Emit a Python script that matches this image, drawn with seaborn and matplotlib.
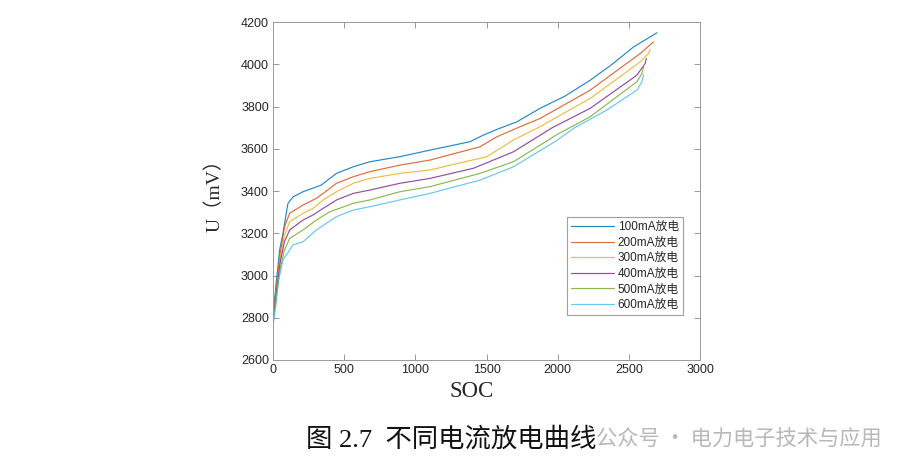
import numpy as np
import pandas as pd
import matplotlib
matplotlib.use("Agg")
import matplotlib.pyplot as plt
import seaborn as sns

# curve data (SOC, U in mV)
labels = ["100mA放电", "200mA放电", "300mA放电", "400mA放电", "500mA放电", "600mA放电"]
colors = ["#0072BD", "#D95319", "#EDB120", "#7E2F8E", "#77AC30", "#4DBEEE"]

soc_100 = [0, 20, 47, 70, 105, 141, 211, 305, 340, 399, 446, 563, 680, 891, 1102, 1383, 1477, 1571, 1712, 1875, 2050, 2227, 2380, 2532, 2696]
u_100 = [2790, 2950, 3123, 3200, 3342, 3373, 3397, 3420, 3429, 3460, 3484, 3515, 3539, 3563, 3594, 3634, 3665, 3692, 3728, 3792, 3850, 3925, 4000, 4083, 4150]

soc_200 = [0, 20, 50, 80, 117, 211, 305, 352, 446, 563, 680, 891, 1102, 1454, 1571, 1735, 1875, 2227, 2579, 2672]
u_200 = [2790, 2930, 3100, 3230, 3295, 3334, 3366, 3389, 3437, 3468, 3492, 3523, 3547, 3610, 3657, 3705, 3744, 3878, 4052, 4107]

soc_300 = [0, 20, 50, 80, 117, 211, 281, 352, 446, 563, 680, 891, 1102, 1501, 1688, 1875, 2227, 2579, 2637, 2649]
u_300 = [2785, 2910, 3080, 3190, 3255, 3295, 3318, 3358, 3397, 3437, 3460, 3484, 3500, 3563, 3642, 3705, 3839, 4012, 4052, 4071]

soc_400 = [0, 20, 50, 80, 117, 211, 281, 352, 446, 563, 680, 891, 1102, 1407, 1688, 1960, 2227, 2555, 2614, 2621]
u_400 = [2785, 2900, 3060, 3160, 3216, 3263, 3287, 3318, 3358, 3389, 3405, 3437, 3460, 3508, 3586, 3700, 3792, 3949, 4005, 4028]

soc_500 = [0, 20, 50, 80, 117, 211, 305, 399, 563, 680, 891, 1102, 1454, 1688, 2000, 2227, 2555, 2591, 2602]
u_500 = [2780, 2880, 3030, 3120, 3176, 3216, 3263, 3302, 3342, 3358, 3397, 3421, 3484, 3539, 3670, 3752, 3918, 3957, 3988]

soc_600 = [0, 20, 40, 70, 141, 211, 305, 446, 563, 680, 891, 1102, 1454, 1688, 1993, 2110, 2344, 2555, 2591, 2602]
u_600 = [2760, 2860, 2980, 3074, 3145, 3160, 3216, 3279, 3310, 3326, 3358, 3389, 3452, 3515, 3640, 3697, 3784, 3878, 3918, 3952]

soc_all = [soc_100, soc_200, soc_300, soc_400, soc_500, soc_600]
u_all = [u_100, u_200, u_300, u_400, u_500, u_600]

frames = []
for lab, s, u in zip(labels, soc_all, u_all):
    frames.append(pd.DataFrame({"SOC": s, "U": u, "curve": lab}))
df = pd.concat(frames, ignore_index=True)

sns.set_theme(style="white")
plt.rcParams["font.family"] = ["Liberation Sans", "Noto Sans CJK SC"]

fig = plt.figure(figsize=(9.07, 4.73), dpi=100)
ax = fig.add_axes([0.301, 0.239, 0.471, 0.714])

sns.lineplot(data=df, x="SOC", y="U", hue="curve", hue_order=labels,
             palette=colors, sort=False, estimator=None, linewidth=0.85,
             alpha=0.85, ax=ax)

ax.set_xlim(0, 3000)
ax.set_ylim(2600, 4200)
ax.set_xticks(np.arange(0, 3001, 500))
ax.set_yticks(np.arange(2600, 4201, 200))
ax.tick_params(direction="in", length=4, width=0.6, colors="#888888",
               labelcolor="#262626", labelsize=9, top=True, right=True,
               bottom=True, left=True, pad=3)
for sp in ax.spines.values():
    sp.set_color("#999999")
    sp.set_linewidth(0.7)

ax.set_xlabel("SOC", family=["Liberation Serif"], fontsize=16.5)
ax.xaxis.set_label_coords(0.464, -0.092, transform=ax.transAxes)
ax.xaxis.label.set_va("center")
ax.set_ylabel("U（mV）", family=["Liberation Serif", "Noto Sans CJK SC"], fontsize=14, labelpad=12)

leg = ax.legend(loc="lower right", bbox_to_anchor=(0.960, 0.133), borderaxespad=0,
                fontsize=8.5, frameon=True, fancybox=False, handlelength=3.6,
                handletextpad=0.35, labelspacing=0.3, borderpad=0.35, title=None)
leg.get_frame().set_edgecolor("#888888")
leg.get_frame().set_linewidth(0.8)

fig.text(0.337, 0.072, "图 2.7  不同电流放电曲线", family=["Liberation Serif", "Noto Sans CJK SC"],
         fontsize=19, color="#111111", ha="left", va="center")
# watermark, kept clear of the caption
fig.text(0.972, 0.072, "公众号 · 电力电子技术与应用", family=["Noto Sans CJK SC"],
         fontsize=15.3, color="#b8b8b8", ha="right", va="center")

fig.savefig("out.png", dpi=100)
